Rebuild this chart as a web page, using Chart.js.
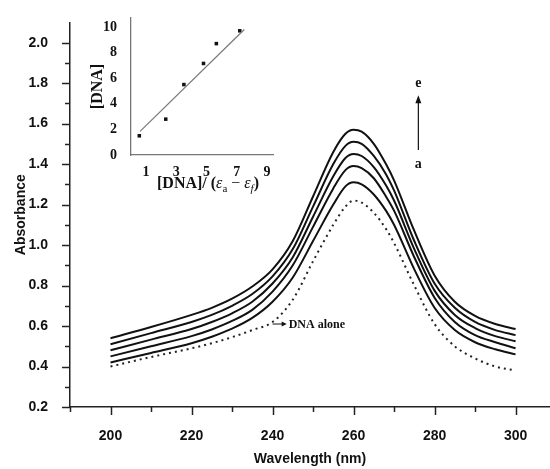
<!DOCTYPE html>
<html>
<head>
<meta charset="utf-8">
<title>Absorption spectra with increasing DNA</title>
<script src="https://cdn.jsdelivr.net/npm/chart.js@4.4.1/dist/chart.umd.min.js"></script>
<style>
  html, body { margin: 0; padding: 0; background: #fff; overflow: hidden; }
  #wrap { position: relative; width: 550px; height: 469px; }
  #main { position: absolute; left: 0; top: 0; }
  #inset { position: absolute; left: 90px; top: 0; }
</style>
</head>
<body>
<div id="wrap">
  <canvas id="main" width="550" height="469"></canvas>
  <canvas id="inset" width="200" height="200"></canvas>
</div>
<script>
// Wavelength grid (nm) shared by all spectra
const wavelengths = [200, 210, 220, 225, 230, 235, 240, 245, 250, 255, 258, 260, 262, 265, 268, 270, 275, 280, 285, 290, 295, 300];

// Absorbance spectra, complex with increasing DNA (a -> e)
const spectrumA = [0.42, 0.467, 0.515, 0.547, 0.587, 0.64, 0.72, 0.84, 1.02, 1.20, 1.29, 1.31, 1.30, 1.25, 1.17, 1.10, 0.88, 0.69, 0.58, 0.52, 0.485, 0.46];
const spectrumB = [0.45, 0.50, 0.55, 0.583, 0.625, 0.68, 0.77, 0.90, 1.09, 1.28, 1.37, 1.39, 1.38, 1.33, 1.24, 1.17, 0.94, 0.74, 0.62, 0.555, 0.52, 0.49];
const spectrumC = [0.48, 0.533, 0.585, 0.62, 0.663, 0.72, 0.81, 0.94, 1.14, 1.34, 1.43, 1.45, 1.44, 1.385, 1.295, 1.22, 0.98, 0.775, 0.655, 0.59, 0.55, 0.525];
const spectrumD = [0.51, 0.565, 0.62, 0.655, 0.70, 0.758, 0.845, 0.98, 1.19, 1.40, 1.49, 1.51, 1.50, 1.44, 1.35, 1.27, 1.02, 0.81, 0.69, 0.62, 0.58, 0.555];
const spectrumE = [0.54, 0.595, 0.655, 0.69, 0.735, 0.795, 0.88, 1.02, 1.24, 1.46, 1.55, 1.57, 1.56, 1.50, 1.40, 1.32, 1.07, 0.85, 0.72, 0.65, 0.61, 0.585];
const dnaAlone  = [0.40, 0.447, 0.49, 0.515, 0.545, 0.58, 0.62, 0.73, 0.92, 1.10, 1.19, 1.22, 1.21, 1.16, 1.08, 1.01, 0.80, 0.61, 0.50, 0.44, 0.40, 0.38];

// Axis ticks
const xMajorTicks = [200, 220, 240, 260, 280, 300];
const xMinorTicks = [190, 210, 230, 250, 270, 290];
const yMajorTicks = [0.2, 0.4, 0.6, 0.8, 1.0, 1.2, 1.4, 1.6, 1.8, 2.0];
const yMinorTicks = [0.3, 0.5, 0.7, 0.9, 1.1, 1.3, 1.5, 1.7, 1.9];

// Annotations (data coordinates)
const trendArrow = { x: 276, from: 1.47, to: 1.74, topLabel: 'e', topY: 1.80, bottomLabel: 'a', bottomY: 1.40 };
const dnaNote = { fromX: 240, toX: 243.5, y: 0.61, text: 'DNA alone' };

// Inset: binding plot
const insetX = [0.55, 2.3, 3.5, 4.8, 5.65, 7.2];
const insetY = [1.5, 2.8, 5.5, 7.15, 8.7, 9.7];
const fitX = [0.6, 7.5];
const fitY = [1.85, 9.8];
const insetXTicks = [1, 3, 5, 7, 9];
const insetYTicks = [0, 2, 4, 6, 8, 10];

const toPoints = (xs, ys) => xs.map((x, i) => ({ x: x, y: ys[i] }));
const sansBold = (size) => ({ family: '"Liberation Sans", Arial, sans-serif', size: size, weight: 'bold' });
const serifBold = (size) => ({ family: '"Liberation Serif", "Times New Roman", serif', size: size, weight: 'bold' });

const solid = (vals) => ({
  data: toPoints(wavelengths, vals),
  borderColor: '#111',
  borderWidth: 2,
  pointRadius: 0,
  cubicInterpolationMode: 'monotone',
  fill: false
});

// Outward tick marks with major/minor lengths
const tickMarks = {
  id: 'tickMarks',
  afterDraw(chart) {
    const { ctx, chartArea } = chart;
    const xs = chart.scales.x, ys = chart.scales.y;
    ctx.save();
    ctx.strokeStyle = '#222';
    ctx.lineWidth = 1.5;
    const xt = (v, len) => {
      const px = Math.round(xs.getPixelForValue(v)) + 0.5;
      ctx.beginPath(); ctx.moveTo(px, chartArea.bottom); ctx.lineTo(px, chartArea.bottom + len); ctx.stroke();
    };
    const yt = (v, len) => {
      const py = Math.round(ys.getPixelForValue(v)) + 0.5;
      ctx.beginPath(); ctx.moveTo(chartArea.left, py); ctx.lineTo(chartArea.left - len, py); ctx.stroke();
    };
    xMajorTicks.forEach(v => xt(v, 8));
    xMinorTicks.forEach(v => xt(v, 5));
    yMajorTicks.forEach(v => yt(v, 8));
    yMinorTicks.forEach(v => yt(v, 5));
    ctx.restore();
  }
};

// Arrow labels on the spectra
const notes = {
  id: 'notes',
  afterDatasetsDraw(chart) {
    const { ctx } = chart;
    const xs = chart.scales.x, ys = chart.scales.y;
    ctx.save();
    ctx.strokeStyle = '#111';
    ctx.fillStyle = '#111';
    ctx.lineWidth = 1.2;

    // a -> e arrow
    const ax = xs.getPixelForValue(trendArrow.x);
    const y0 = ys.getPixelForValue(trendArrow.from);
    const y1 = ys.getPixelForValue(trendArrow.to);
    ctx.beginPath(); ctx.moveTo(ax, y0); ctx.lineTo(ax, y1 + 4); ctx.stroke();
    ctx.beginPath(); ctx.moveTo(ax, y1); ctx.lineTo(ax - 3, y1 + 8); ctx.lineTo(ax + 3, y1 + 8); ctx.closePath(); ctx.fill();
    ctx.font = 'bold 14px "Liberation Serif", serif';
    ctx.textAlign = 'center';
    ctx.textBaseline = 'middle';
    ctx.fillText(trendArrow.topLabel, ax, ys.getPixelForValue(trendArrow.topY));
    ctx.fillText(trendArrow.bottomLabel, ax, ys.getPixelForValue(trendArrow.bottomY));

    // DNA alone pointer
    const nx0 = xs.getPixelForValue(dnaNote.fromX);
    const nx1 = xs.getPixelForValue(dnaNote.toX);
    const ny = ys.getPixelForValue(dnaNote.y);
    ctx.lineWidth = 1;
    ctx.beginPath(); ctx.moveTo(nx0, ny); ctx.lineTo(nx1 - 3, ny); ctx.stroke();
    ctx.beginPath(); ctx.moveTo(nx1, ny); ctx.lineTo(nx1 - 5, ny - 2.5); ctx.lineTo(nx1 - 5, ny + 2.5); ctx.closePath(); ctx.fill();
    ctx.font = 'bold 12px "Liberation Serif", serif';
    ctx.textAlign = 'left';
    ctx.fillText(dnaNote.text, nx1 + 2, ny + 1);
    ctx.restore();
  }
};

new Chart(document.getElementById('main'), {
  type: 'line',
  data: {
    datasets: [
      solid(spectrumA), solid(spectrumB), solid(spectrumC), solid(spectrumD), solid(spectrumE),
      {
        data: toPoints(wavelengths, dnaAlone),
        borderColor: '#222',
        borderWidth: 2,
        borderDash: [2, 4],
        pointRadius: 0,
        cubicInterpolationMode: 'monotone',
        fill: false
      }
    ]
  },
  options: {
    responsive: false,
    animation: false,
    devicePixelRatio: 1,
    layout: { padding: { top: 13, right: 0, bottom: 0, left: 0 } },
    plugins: { legend: { display: false }, tooltip: { enabled: false } },
    scales: {
      x: {
        type: 'linear',
        min: 190,
        max: 308.5,
        afterBuildTicks: (s) => { s.ticks = xMajorTicks.map(v => ({ value: v })); },
        afterFit: (s) => { s.height = 62; },
        grid: { display: false },
        border: { display: true, color: '#222', width: 1.5 },
        ticks: { color: '#111', font: sansBold(14), padding: 13, maxRotation: 0, autoSkip: false },
        title: { display: true, text: 'Wavelength (nm)', color: '#111', font: sansBold(14), padding: { top: 0, bottom: 1 } }
      },
      y: {
        type: 'linear',
        min: 0.2,
        max: 2.1,
        afterBuildTicks: (s) => { s.ticks = yMajorTicks.map(v => ({ value: v })); },
        afterFit: (s) => { s.width = 70; },
        grid: { display: false },
        border: { display: true, color: '#222', width: 1.5 },
        ticks: { color: '#111', font: sansBold(14), padding: 14, callback: (v) => v.toFixed(1) },
        title: { display: true, text: 'Absorbance', color: '#111', font: sansBold(14), padding: { top: 13, bottom: 0 } }
      }
    }
  },
  plugins: [tickMarks, notes]
});

// Inset x-axis title with subscripts
const insetXTitle = {
  id: 'insetXTitle',
  afterDraw(chart) {
    const { ctx, chartArea } = chart;
    const parts = [
      { t: '[DNA]/ (', f: 'bold 16px "Liberation Serif", serif', dy: 0 },
      { t: 'ε', f: 'italic 16px "Liberation Serif", serif', dy: 0 },
      { t: 'a', f: '11px "Liberation Serif", serif', dy: 4 },
      { t: ' − ', f: '16px "Liberation Serif", serif', dy: 0 },
      { t: 'ε', f: 'italic 16px "Liberation Serif", serif', dy: 0 },
      { t: 'f', f: 'italic 11px "Liberation Serif", serif', dy: 4 },
      { t: ')', f: 'bold 16px "Liberation Serif", serif', dy: 0 }
    ];
    ctx.save();
    ctx.fillStyle = '#111';
    ctx.textBaseline = 'alphabetic';
    ctx.textAlign = 'left';
    let total = 0;
    parts.forEach(p => { ctx.font = p.f; p.w = ctx.measureText(p.t).width; total += p.w; });
    const cx = (chartArea.left + chartArea.right) / 2 + 6;
    let x = cx - total / 2;
    const base = 188;
    parts.forEach(p => { ctx.font = p.f; ctx.fillText(p.t, x, base + p.dy); x += p.w; });
    ctx.restore();
  }
};

new Chart(document.getElementById('inset'), {
  type: 'scatter',
  data: {
    datasets: [
      {
        type: 'line',
        data: toPoints(fitX, fitY),
        borderColor: '#777',
        borderWidth: 1.2,
        pointRadius: 0,
        fill: false
      },
      {
        data: toPoints(insetX, insetY),
        backgroundColor: '#111',
        borderColor: '#111',
        pointStyle: 'rect',
        pointRadius: 2.5,
        borderWidth: 0
      }
    ]
  },
  options: {
    responsive: false,
    animation: false,
    devicePixelRatio: 1,
    layout: { padding: { top: 18, right: 17, bottom: 0, left: 0 } },
    plugins: { legend: { display: false }, tooltip: { enabled: false } },
    scales: {
      x: {
        type: 'linear',
        min: 0,
        max: 9.4,
        afterBuildTicks: (s) => { s.ticks = insetXTicks.map(v => ({ value: v })); },
        afterFit: (s) => { s.height = 45; },
        grid: { display: false },
        border: { display: true, color: '#777', width: 1.3 },
        ticks: { color: '#111', font: serifBold(14), padding: 1, maxRotation: 0, autoSkip: false }
      },
      y: {
        type: 'linear',
        min: 0,
        max: 10.7,
        afterBuildTicks: (s) => { s.ticks = insetYTicks.map(v => ({ value: v })); },
        afterFit: (s) => { s.width = 41; },
        grid: { display: false },
        border: { display: true, color: '#777', width: 1.3 },
        ticks: { color: '#111', font: serifBold(14), padding: 6 },
        title: { display: true, text: '[DNA]', color: '#111', font: { family: '"Liberation Serif", serif', size: 16, weight: 'bold', lineHeight: 1 }, padding: { top: 0, bottom: 0 } }
      }
    }
  },
  plugins: [insetXTitle]
});
</script>
</body>
</html>
